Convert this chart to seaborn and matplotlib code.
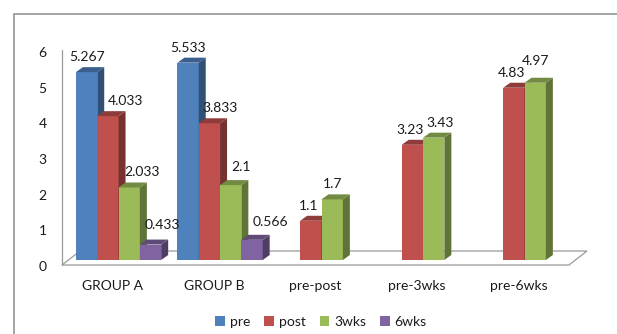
import numpy as np
import pandas as pd
import matplotlib
matplotlib.use("Agg")
import matplotlib.pyplot as plt
import seaborn as sns
from matplotlib.patches import Polygon, Rectangle
from matplotlib.lines import Line2D
from matplotlib.transforms import ScaledTranslation, IdentityTransform

# ---- data ----
categories = ["GROUP A", "GROUP B", "pre-post", "pre-3wks", "pre-6wks"]
series = ["pre", "post", "3wks", "6wks"]
pre_vals = [5.267, 5.533, None, None, None]
post_vals = [4.033, 3.833, 1.1, 3.23, 4.83]
wks3_vals = [2.033, 2.1, 1.7, 3.43, 4.97]
wks6_vals = [0.433, 0.566, None, None, None]
yticks = [0, 1, 2, 3, 4, 5, 6]

colors = ["#4F81BD", "#C0504D", "#9BBB59", "#8064A2"]

rows = []
for s, vals in zip(series, [pre_vals, post_vals, wks3_vals, wks6_vals]):
    for c, v in zip(categories, vals):
        if v is not None:
            rows.append({"category": c, "series": s, "value": v})
df = pd.DataFrame(rows)

# label placement tweaks (pixels), mimicking the original's label positions
label_dx = {("GROUP A", "post"): 18, ("GROUP A", "3wks"): 13, ("GROUP A", "6wks"): 12,
            ("GROUP B", "post"): 11, ("GROUP B", "3wks"): 10, ("GROUP B", "6wks"): 18,
            ("pre-post", "post"): -2, ("pre-3wks", "post"): -2, ("pre-3wks", "3wks"): 6,
            ("pre-6wks", "post"): -2}
label_dy = {("GROUP A", "6wks"): 20, ("GROUP B", "3wks"): 18, ("GROUP B", "6wks"): 18,
            ("pre-6wks", "3wks"): 22}

sns.set_theme(style="white")
plt.rcParams["font.family"] = ["Lato", "DejaVu Sans"]
TXT = "#1a1a1a"
FS = 10

W, H = 617, 334
fig = plt.figure(figsize=(W / 100, H / 100), dpi=100)
ax = fig.add_axes([62 / W, (H - 260) / H, (569 - 62) / W, (260 - 46) / H])

sns.barplot(data=df, x="category", y="value", hue="series", order=categories,
            hue_order=series, palette=colors, saturation=1, width=0.84,
            errorbar=None, legend=False, ax=ax)

ax.set_xlim(-0.557, 4.438)
ax.set_ylim(0, 6)
for sp in ax.spines.values():
    sp.set_visible(False)
ax.set_xlabel("")
ax.set_ylabel("")
ax.set_yticks(yticks)
ax.set_yticklabels([str(t) for t in yticks])
ax.tick_params(axis="y", length=0, pad=11, labelsize=FS, labelcolor=TXT)
ax.tick_params(axis="x", length=0, pad=14.5, labelsize=FS, labelcolor=TXT)
for lab in ax.get_yticklabels():
    lab.set_transform(lab.get_transform() + ScaledTranslation(0, -6 / 100, fig.dpi_scale_trans))
for lab in ax.get_xticklabels():
    lab.set_transform(lab.get_transform() + ScaledTranslation(-6 / 100, 0, fig.dpi_scale_trans))
ax.patch.set_alpha(0)

# ---- pseudo 3D ----
ident = IdentityTransform()
bb = ax.get_window_extent()
DX, DY = 7, 5

# floor
floor = Polygon([(bb.x0, bb.y0 - 5), (bb.x1, bb.y0 - 5), (bb.x1 + 18, bb.y0 + 9), (bb.x0 + 18, bb.y0 + 9)],
                closed=True, facecolor="white", edgecolor="#9a9a9a", lw=0.9,
                transform=ident, zorder=1, clip_on=False)
ax.add_patch(floor)
ax.add_line(Line2D([bb.x0, bb.x0], [bb.y0 - 5, bb.y1 - 4], color="#9a9a9a", lw=0.9,
                   transform=ident, zorder=1.5, clip_on=False))

def shade(c, f):
    r, g, b = matplotlib.colors.to_rgb(c)
    return (r * f, g * f, b * f)

bars = []
for si, cont in enumerate(ax.containers):
    for bar in cont:
        bars.append((bar.get_x(), si, bar))
bars.sort(key=lambda t: t[0])

for k, (x0, si, bar) in enumerate(bars):
    z = 3 + k * 0.01
    w = bar.get_width()
    h = bar.get_height()
    X0, Y0 = ax.transData.transform((x0, 0))
    X1, YT = ax.transData.transform((x0 + w, h))
    bar.set_zorder(z)
    bar.set_edgecolor("none")
    top = Polygon([(X0, YT), (X1, YT), (X1 + DX, YT + DY), (X0 + DX, YT + DY)], closed=True,
                  facecolor=shade(colors[si], 0.74), edgecolor="none", transform=ident,
                  zorder=z + 0.002, clip_on=False)
    side = Polygon([(X1, Y0), (X1 + DX, Y0 + DY), (X1 + DX, YT + DY), (X1, YT)], closed=True,
                   facecolor=shade(colors[si], 0.62), edgecolor="none", transform=ident,
                   zorder=z + 0.001, clip_on=False)
    ax.add_patch(top)
    ax.add_patch(side)
    cat = categories[int(round(x0 + w / 2))]
    key = (cat, series[si])
    dx = label_dx.get(key, 0)
    dy = label_dy.get(key, 15)
    ax.text(x0 + w / 2, h, f"{h:g}", ha="center", va="center", fontsize=FS, color=TXT,
            transform=ax.transData + ScaledTranslation(dx / 100, dy / 100, fig.dpi_scale_trans),
            zorder=10)

# outer frame
fig.patches.append(Rectangle((14 / W, -0.2), 2, 1 - 14 / H + 0.2, fill=False,
                             edgecolor="#8c8c8c", lw=1.1, transform=fig.transFigure))

handles = [Rectangle((0, 0), 1, 1, facecolor=c, edgecolor="none") for c in colors]
fig.legend(handles, series, loc="center", bbox_to_anchor=(321 / W, 1 - 322 / H), ncol=4,
           frameon=False, fontsize=FS, handlelength=0.7, handleheight=0.7,
           handletextpad=0.35, columnspacing=1.0, labelcolor=TXT)

fig.savefig("out.png", dpi=100)
